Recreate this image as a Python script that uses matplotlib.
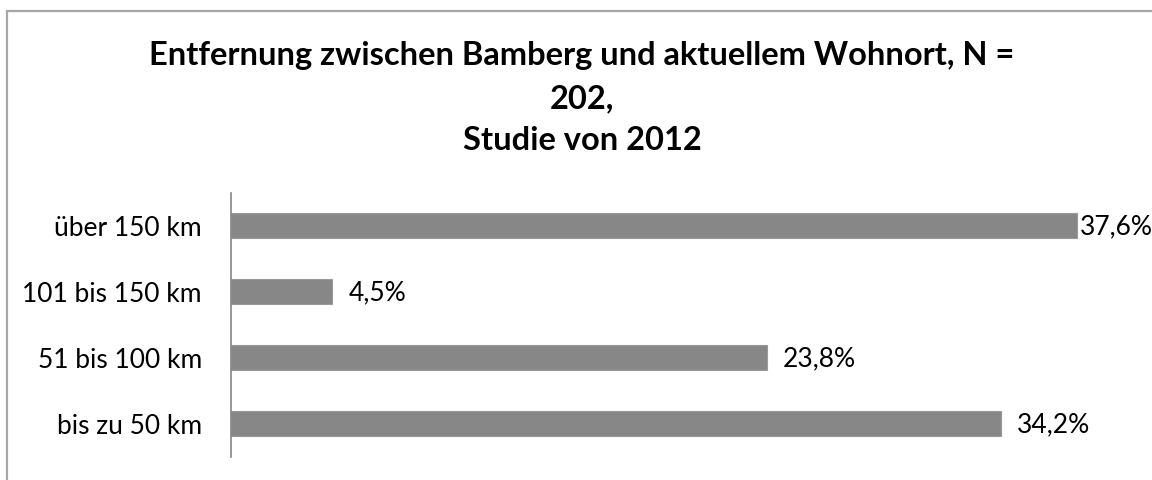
import matplotlib.pyplot as plt
from matplotlib.patches import Rectangle

# --- data ---
categories = ["bis zu 50 km", "51 bis 100 km", "101 bis 150 km", "über 150 km"]
shares = [34.2, 23.8, 4.5, 37.6]
value_labels = ["34,2%", "23,8%", "4,5%", "37,6%"]
title_lines = ["Entfernung zwischen Bamberg und aktuellem Wohnort, N =", "202,", "Studie von 2012"]

plt.rcParams['font.family'] = ['Lato', 'DejaVu Sans']

fig = plt.figure(figsize=(11.52, 4.8), dpi=100)
W, H = 1152, 480

# outer chart frame (runs off the right and bottom edges)
fig.patches.append(Rectangle((7 / W, -0.1), 1.2, 1.1 - 11 / H, transform=fig.transFigure,
                             fill=False, edgecolor='#a6a6a6', linewidth=1.6))

# plot area in pixel terms
left, right = 231, 1131
top, bottom = 192.5, 456.5
ax = fig.add_axes([left / W, 1 - bottom / H, (right - left) / W, (bottom - top) / H])

y = range(len(categories))
ax.barh(y, shares, height=0.38, color='#878787', edgecolor='#9a9a9a', linewidth=0.8)
ax.set_xlim(0, 40)
ax.set_ylim(-0.5, 3.5)

ax.set_yticks(list(y))
ax.set_yticklabels(categories, fontsize=19)
ax.tick_params(axis='y', length=0, pad=21)
ax.set_xticks([])
for s in ['top', 'right', 'bottom']:
    ax.spines[s].set_visible(False)
ax.spines['left'].set_color('#868686')
ax.spines['left'].set_linewidth(1.2)

# value labels; the widest bar leaves no room so its label sits tight
for i, (v, lab) in enumerate(zip(shares, value_labels)):
    off = 2 if v == max(shares) else 12
    ax.annotate(lab, (v, i), xytext=(off, -1), textcoords='offset points',
                va='center', ha='left', fontsize=19)

# title, one line at a time on fixed baselines
for line, base in zip(title_lines, [65, 108, 150]):
    fig.text(582 / W, 1 - base / H, line, ha='center', va='baseline',
             fontsize=23.5, fontweight='bold')

fig.savefig("out.png", dpi=100)
